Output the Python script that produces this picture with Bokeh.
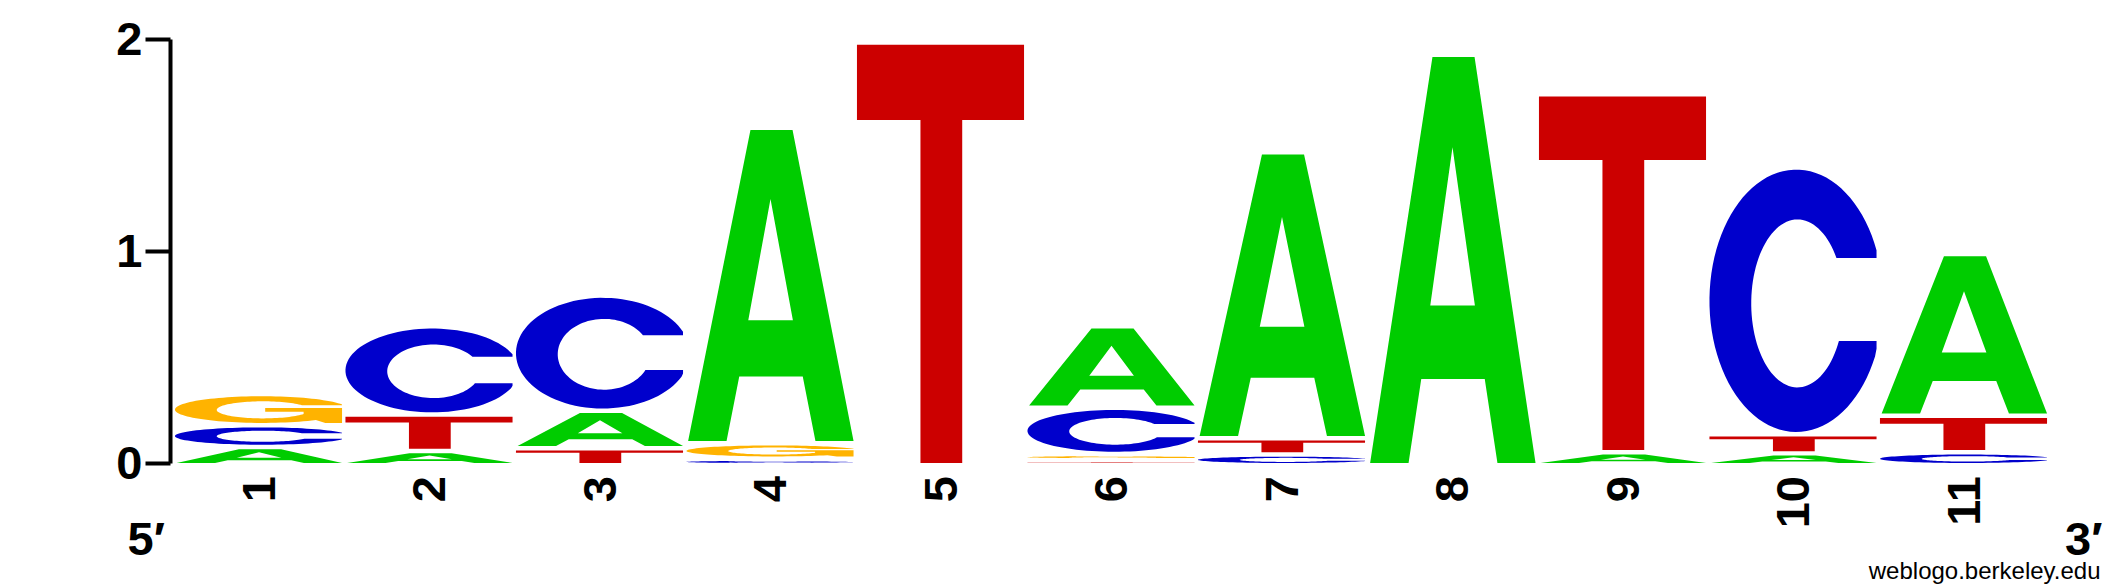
import math
import numpy as np
from bokeh.plotting import figure
from bokeh.models import Range1d, FixedTicker, ColumnDataSource, Label
from bokeh.embed import file_html
from bokeh.resources import INLINE

# ---- data (information content, bits) ----
positions = [1, 2, 3, 4, 5, 6, 7, 8, 9, 10, 11]
bits_A = [0.065, 0.046, 0.156, 1.467, 0.000, 0.363, 1.328, 1.915, 0.040, 0.035, 0.742]
bits_C = [0.082, 0.395, 0.522, 0.010, 0.000, 0.197, 0.030, 0.000, 0.000, 1.238, 0.040]
bits_G = [0.126, 0.000, 0.000, 0.052, 0.000, 0.009, 0.000, 0.000, 0.000, 0.000, 0.000]
bits_T = [0.000, 0.151, 0.059, 0.000, 1.973, 0.002, 0.055, 0.000, 1.668, 0.069, 0.151]
y_ticks = [0, 1, 2]
colors = {"A": "#00CC00", "C": "#0000CC", "G": "#FFB300", "T": "#CC0000"}

GAP = 0.021      # visual gap above each stacked letter
LETTER_W = 0.98  # letter width in column units


def arc(cx, cy, rx, ry, t0, t1, n=60, xmax=None):
    ts = np.linspace(t0, t1, n)
    xs = cx + rx * np.cos(ts)
    ys = cy + ry * np.sin(ts)
    if xmax is not None:
        xs = np.minimum(xs, xmax)
    return list(xs), list(ys)


OCX, OCY, ORX, ORY = 0.52, 0.5, 0.52, 0.5
ICX, ICY, IRX, IRY = 0.527, 0.49, 0.277, 0.32
TUP, TLO = 0.663, 0.347


def shape_T():
    return [([0, 1, 1, 0.63, 0.63, 0.38, 0.38, 0],
             [1, 1, 0.82, 0.82, 0, 0, 0.82, 0.82])]


def shape_A():
    outer = ([0.01, 0.383, 0.635, 1.0, 0.772, 0.696, 0.316, 0.24],
             [0, 1, 1, 0, 0, 0.207, 0.207, 0])
    hole = ([0.37, 0.637, 0.503], [0.388, 0.388, 0.778])
    return [outer, hole]


def shape_C():
    to1 = math.asin((TUP - OCY) / ORY)
    to2 = 2 * math.pi - math.asin((OCY - TLO) / ORY)
    ti1 = math.asin((TUP - ICY) / IRY)
    ti2 = 2 * math.pi - math.asin((ICY - TLO) / IRY)
    ox, oy = arc(OCX, OCY, ORX, ORY, to1, to2, 90, xmax=1.0)
    ix, iy = arc(ICX, ICY, IRX, IRY, ti2, ti1, 90)
    return [(ox + ix, oy + iy)]


def shape_G():
    to1 = math.asin((TUP - OCY) / ORY)
    to2 = 2 * math.pi - 0.9
    ti1 = math.asin((TUP - ICY) / IRY)
    xs_bar = 0.77
    ti2 = 2 * math.pi - math.acos((xs_bar - ICX) / IRX)
    ox, oy = arc(OCX, OCY, ORX, ORY, to1, to2, 90, xmax=1.0)
    sx = [0.90, 1.0, 1.0, 0.54, 0.54, xs_bar]
    sy = [0.0, 0.0, 0.56, 0.56, 0.42, 0.42]
    ix, iy = arc(ICX, ICY, IRX, IRY, ti2, ti1, 90)
    return [(ox + sx + ix, oy + sy + iy)]


SHAPES = {"A": shape_A(), "C": shape_C(), "G": shape_G(), "T": shape_T()}

xs_all, ys_all, col_all = [], [], []
for k, pos in enumerate(positions):
    col = {"A": bits_A[k], "C": bits_C[k], "G": bits_G[k], "T": bits_T[k]}
    base = 0.0
    for letter, h in sorted(col.items(), key=lambda kv: kv[1]):
        if h <= 0:
            continue
        rings_x, rings_y = [], []
        for (ux, uy) in SHAPES[letter]:
            rings_x.append([pos - LETTER_W / 2 + u * LETTER_W for u in ux])
            rings_y.append([base + v * h for v in uy])
        xs_all.append([rings_x])
        ys_all.append([rings_y])
        col_all.append(colors[letter])
        base += h + GAP

src = ColumnDataSource(dict(xs=xs_all, ys=ys_all, color=col_all))

W, H = 2125, 588
PX_PER_X = 170.5          # pixels per column
PX_PER_Y = 212.0          # pixels per bit
X0_PX, Y0_PX = 258.0, 462.5   # pixel position of column 1 / zero line
x_start = 1 + (0 - X0_PX) / PX_PER_X
x_end = 1 + (W - X0_PX) / PX_PER_X
y_end = Y0_PX / PX_PER_Y
y_start = (Y0_PX - H) / PX_PER_Y

p = figure(width=W, height=H,
           x_range=Range1d(x_start, x_end), y_range=Range1d(y_start, y_end),
           output_backend="svg", toolbar_location=None,
           min_border_left=0, min_border_right=0,
           min_border_top=0, min_border_bottom=0)
p.outline_line_color = None
p.xgrid.visible = False
p.ygrid.visible = False
p.background_fill_color = "white"
p.border_fill_color = "white"

p.multi_polygons(xs="xs", ys="ys", fill_color="color", line_color=None, source=src)

FONT = "Liberation Sans"

yax = p.yaxis[0]
yax.fixed_location = 1 + (170 - X0_PX) / PX_PER_X
yax.bounds = (0, 2)
yax.ticker = FixedTicker(ticks=y_ticks, minor_ticks=[])
yax.axis_line_width = 4
yax.axis_line_color = "black"
yax.major_tick_line_width = 4
yax.major_tick_out = 25
yax.major_tick_in = 0
yax.minor_tick_line_color = None
yax.major_label_standoff = 3
yax.major_label_text_font = FONT
yax.major_label_text_font_size = "47px"
yax.major_label_text_font_style = "bold"
yax.major_label_text_color = "black"

xax = p.xaxis[0]
xax.fixed_location = 0
xax.ticker = FixedTicker(ticks=positions, minor_ticks=[])
xax.axis_line_color = None
xax.major_tick_line_color = None
xax.minor_tick_line_color = None
xax.major_tick_out = 0
xax.major_tick_in = 0
xax.major_label_standoff = 13
xax.major_label_orientation = math.pi / 2
xax.major_label_text_font = FONT
xax.major_label_text_font_size = "47px"
xax.major_label_text_font_style = "bold"
xax.major_label_text_color = "black"

p.add_layout(Label(x=1 + (127 - X0_PX) / PX_PER_X, y=(Y0_PX - 538) / PX_PER_Y,
                   text="5\u2032", text_font=FONT,
                   text_font_size="47px", text_font_style="bold",
                   text_align="left", text_baseline="alphabetic", text_color="black"))
p.add_layout(Label(x=1 + (2102 - X0_PX) / PX_PER_X, y=(Y0_PX - 538) / PX_PER_Y,
                   text="3\u2032", text_font=FONT,
                   text_font_size="47px", text_font_style="bold",
                   text_align="right", text_baseline="alphabetic", text_color="black"))
p.add_layout(Label(x=1 + (2100 - X0_PX) / PX_PER_X, y=(Y0_PX - 570) / PX_PER_Y,
                   text="weblogo.berkeley.edu", text_font=FONT,
                   text_font_size="24px", text_align="right",
                   text_baseline="alphabetic", text_color="black"))

open("out.html", "w").write(file_html(p, INLINE))
